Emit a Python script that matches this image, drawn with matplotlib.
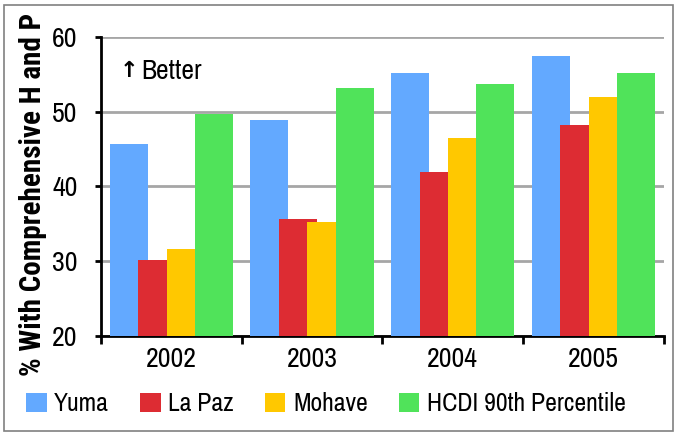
import matplotlib.pyplot as plt
import numpy as np
from matplotlib.patches import Rectangle

# chart data
years = ["2002", "2003", "2004", "2005"]
yuma = [45.6, 48.9, 55.2, 57.4]
la_paz = [30.1, 35.6, 41.9, 48.2]
mohave = [31.6, 35.2, 46.5, 52.0]
hcdi = [49.7, 53.1, 53.7, 55.2]

series = [
    ("Yuma", yuma, "#63A9FF"),
    ("La Paz", la_paz, "#DD2C33"),
    ("Mohave", mohave, "#FFC800"),
    ("HCDI 90th Percentile", hcdi, "#50E35A"),
]

FONT = ["Archivo Narrow", "Roboto Condensed", "Liberation Sans Narrow", "DejaVu Sans"]
BOLD_FONT = ["Roboto Condensed", "Archivo Narrow", "DejaVu Sans"]
plt.rcParams["font.family"] = FONT

fig = plt.figure(figsize=(6.76, 4.32), dpi=100)
ax = fig.add_axes([0.1494, 0.2222, 0.8326, 0.6928])

x = np.arange(len(years))
width = 0.27
step = 0.202
offsets = (np.arange(len(series)) - 1.5) * step
handles = []
for (name, vals, color), off in zip(series, offsets):
    b = ax.bar(x + off, vals, width=width, color=color, label=name, zorder=3)
    handles.append(b)

ax.set_ylim(20, 60)
ax.set_xlim(-0.5, len(years) - 0.5)
ax.set_yticks([20, 30, 40, 50, 60])
ax.yaxis.grid(True, color="#A6A6A6", linewidth=2, zorder=0)
ax.set_axisbelow(True)

ax.set_xticks(x)
ax.set_xticklabels(years)
ax.set_xticks(np.arange(len(years) + 1) - 0.5, minor=True)
ax.tick_params(axis="x", which="major", length=0, labelsize=20, pad=8)
ax.tick_params(axis="x", which="minor", length=6, width=2, direction="out")
ax.tick_params(axis="y", length=4, width=2, labelsize=20, pad=13)

for side in ["top", "right"]:
    ax.spines[side].set_visible(False)
for side in ["left", "bottom"]:
    ax.spines[side].set_linewidth(2)

fig.text(33 / 676, 1 - 194 / 432, "% With Comprehensive H and P", fontsize=21,
         fontweight="bold", family=BOLD_FONT, rotation=90, ha="center", va="center")

ax.text(0.033, 0.885, "\u2191", transform=ax.transAxes, fontsize=16,
        fontweight="bold", family=["DejaVu Sans"], va="center")
ax.text(0.072, 0.885, "Better", transform=ax.transAxes, fontsize=20, va="center")

fig.legend(handles=handles, loc="lower center", bbox_to_anchor=(0.482, -0.015),
           ncol=4, frameon=False, fontsize=18.5, handlelength=0.8,
           handleheight=0.75, handletextpad=0.3, columnspacing=1.2)

# outer border
fig.patches.append(Rectangle((4 / 676, 1 / 432), 669 / 676, 426 / 432,
                             transform=fig.transFigure, fill=False,
                             edgecolor="#808080", linewidth=1.2))

fig.savefig("out.png", dpi=100)
